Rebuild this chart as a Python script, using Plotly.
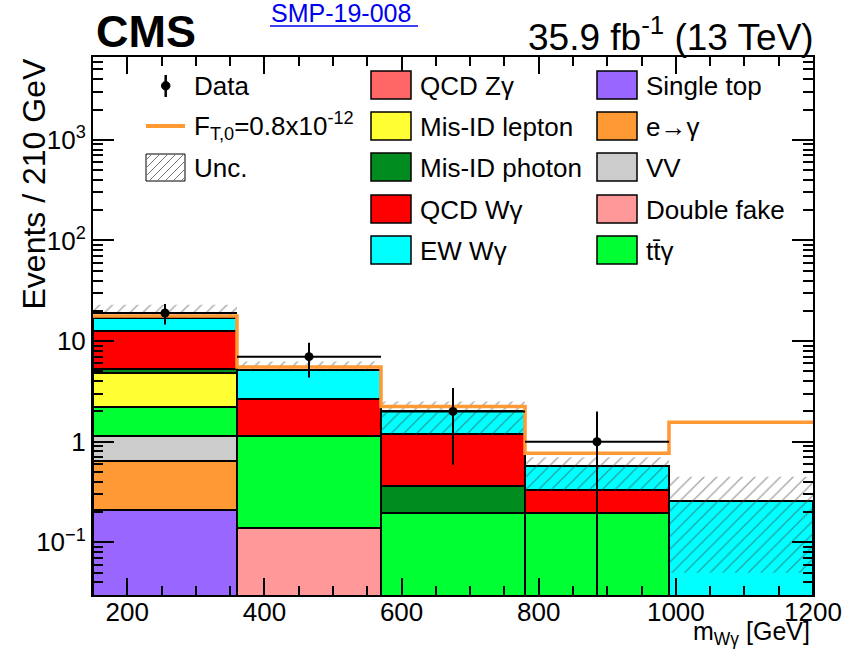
import plotly.graph_objects as go

# ---- binning ----
bin_edges = [150, 360, 570, 780, 990, 1200]
bin_centers = [255, 465, 675, 885, 1095]
bin_width = 210

# ---- stacked backgrounds (bottom to top), events per bin ----
single_top = [0.208, 0, 0, 0, 0]
double_fake = [0, 0.14, 0, 0, 0]
e_to_gamma = [0.43, 0, 0, 0, 0]
vv = [0.51, 0, 0, 0, 0]
ttgamma = [1.06, 1.01, 0.196, 0.196, 0]
misid_lepton = [2.6, 0, 0, 0, 0]
misid_photon = [0.46, 0, 0.164, 0, 0]
qcd_wgamma = [7.33, 1.5, 0.83, 0.134, 0]
ew_wgamma = [4.4, 2.55, 0.81, 0.25, 0.26]
qcd_zgamma = [0, 0, 0, 0, 0]

# ---- observed data ----
data_x = [255, 465, 675, 885]
data_y = [19, 7, 2, 1]
data_err = [4.36, 2.65, 1.41, 1.0]

# ---- aQGC prediction F_T,0 = 0.8e-12 ----
ft0 = [17.8, 5.52, 2.24, 0.77, 1.56]

# ---- uncertainty band (lower / upper edges) ----
unc_lo = [17.0, 5.2, 1.19, 0.33, 0.05]
unc_hi = [23.0, 6.27, 2.51, 0.70, 0.45]

y_tick_vals = [0.1, 1, 10, 100, 1000]
y_tick_text = ["10<sup>\u22121</sup>", "1", "10", "10<sup>2</sup>", "10<sup>3</sup>"]
x_tick_vals = [200, 400, 600, 800, 1000, 1200]

components = [
    ("Single top", single_top, "#9966FF"),
    ("Double fake", double_fake, "#FF9999"),
    ("e\u2192\u03b3", e_to_gamma, "#FF9933"),
    ("VV", vv, "#CCCCCC"),
    ("tt\u0304\u03b3", ttgamma, "#00FF33"),
    ("Mis-ID lepton", misid_lepton, "#FFFF33"),
    ("Mis-ID photon", misid_photon, "#008C1E"),
    ("QCD W\u03b3", qcd_wgamma, "#FF0000"),
    ("EW W\u03b3", ew_wgamma, "#00FFFF"),
    ("QCD Z\u03b3", qcd_zgamma, "#FF6666"),
]
colors = {name: c for name, _, c in components}

FONT = "Liberation Sans"
W, H = 845, 652
L, R, T, B = 93, 813, 57, 595

fig = go.Figure()

for name, vals, col in components:
    fig.add_trace(go.Bar(
        x=bin_centers,
        y=[v if v > 0 else None for v in vals],
        width=[bin_width] * len(bin_centers),
        marker=dict(color=col, line=dict(color="black", width=2)),
        name=name, showlegend=False,
    ))

# hatched uncertainty band
ux, uy = [], []
for i in range(len(bin_centers)):
    a, b = bin_edges[i], bin_edges[i + 1]
    ux += [a, b, b, a, a, None]
    uy += [unc_lo[i], unc_lo[i], unc_hi[i], unc_hi[i], unc_lo[i], None]
fig.add_trace(go.Scatter(
    x=ux, y=uy, mode="lines", fill="toself",
    line=dict(width=0, color="rgba(0,0,0,0)"),
    fillcolor="rgba(0,0,0,0)",
    fillpattern=dict(shape="/", fgcolor="#444444", bgcolor="rgba(0,0,0,0)",
                     size=9, solidity=0.14),
    showlegend=False, hoverinfo="skip",
))

# F_T,0 step line
fig.add_trace(go.Scatter(
    x=bin_edges, y=ft0 + [ft0[-1]], mode="lines",
    line=dict(color="#FF9933", width=3.5, shape="hv"),
    showlegend=False,
))

# data with Poisson errors
fig.add_trace(go.Scatter(
    x=data_x, y=data_y, mode="markers",
    marker=dict(color="black", size=9),
    error_y=dict(type="data", array=data_err, color="black", thickness=2, width=0),
    error_x=dict(type="constant", value=bin_width / 2, color="black", thickness=2, width=0),
    showlegend=False,
))


def px(x):
    return (x - L) / (R - L)


def py(y):
    return (B - y) / (B - T)


shapes = []
annotations = []


def text(x, y, s, size, xanchor="left", yanchor="middle", color="black", bold=False, angle=0):
    annotations.append(dict(
        x=px(x), y=py(y), xref="paper", yref="paper", text=f"<b>{s}</b>" if bold else s,
        showarrow=False, xanchor=xanchor, yanchor=yanchor, textangle=angle,
        font=dict(family=FONT, size=size, color=color),
    ))


def box(x0, y0, x1, y1, fill, lw=1.5):
    shapes.append(dict(type="rect", xref="paper", yref="paper",
                       x0=px(x0), x1=px(x1), y0=py(y1), y1=py(y0),
                       fillcolor=fill, line=dict(color="black", width=lw)))


def seg(x0, y0, x1, y1, color, width):
    shapes.append(dict(type="line", xref="paper", yref="paper",
                       x0=px(x0), x1=px(x1), y0=py(y0), y1=py(y1),
                       line=dict(color=color, width=width)))


LEG_FS = 26
# column 1
seg(165.7, 75, 165.7, 97, "black", 2.5)
shapes.append(dict(type="circle", xref="paper", yref="paper",
                   x0=px(161.5), x1=px(170), y0=py(90), y1=py(81.5),
                   fillcolor="black", line=dict(color="black", width=1)))
text(192, 86, "Data", LEG_FS)
seg(146, 126, 185, 126, "#FF9933", 4)
text(192, 126, "F<sub>T,0</sub>=0.8x10<sup>-12</sup>", LEG_FS)
bx0, by0, bx1, by1 = 146, 154, 185, 181
box(bx0, by0, bx1, by1, "rgba(0,0,0,0)", lw=1)
c = bx0 + by0 + 6
while c < bx1 + by1:
    xa = max(bx0, c - by1)
    xb = min(bx1, c - by0)
    if xb > xa:
        seg(xa, c - xa, xb, c - xb, "#777777", 1)
    c += 8
text(192, 168, "Unc.", LEG_FS)

# columns 2 and 3
col2 = ["QCD Z\u03b3", "Mis-ID lepton", "Mis-ID photon", "QCD W\u03b3", "EW W\u03b3"]
col3 = ["Single top", "e\u2192\u03b3", "VV", "Double fake", "tt\u0304\u03b3"]
rows = [85, 126, 167, 209, 250]
for names, bxl, tx in [(col2, 371, 418), (col3, 597, 644)]:
    for nm, ry in zip(names, rows):
        box(bxl, ry - 14, bxl + 40, ry + 14, colors[nm])
        text(tx, ry + 1, nm, LEG_FS)

# header texts
text(94, 32, "CMS", 45, bold=True)
text(269, 13, "SMP-19-008", 25, color="#0000EE")
seg(270, 26, 418, 26, "#0000EE", 1.5)
text(816, 35, "35.9 fb<sup>-1</sup> (13 TeV)", 37, xanchor="right")

# axis titles
text(33, 57, "Events / 210 GeV", 32, xanchor="center", yanchor="top", angle=-90)
text(812, 633, "m<sub>W\u03b3</sub> [GeV]", 25, xanchor="right")

minor_y = [m * 10 ** k for k in range(-2, 4) for m in range(2, 10)]

fig.update_layout(
    width=W, height=H,
    margin=dict(l=L, r=W - R, t=T, b=H - B, autoexpand=False),
    paper_bgcolor="white", plot_bgcolor="white",
    barmode="stack", bargap=0,
    showlegend=False,
    shapes=shapes, annotations=annotations,
    font=dict(family=FONT, color="black"),
    xaxis=dict(
        range=[150, 1200], tickmode="array", tickvals=x_tick_vals,
        ticks="inside", ticklen=17, tickwidth=1.5, tickcolor="black",
        minor=dict(ticks="inside", ticklen=9, tickwidth=1.5, tickcolor="black",
                   tickmode="linear", tick0=150, dtick=50, showgrid=False),
        showline=True, linecolor="black", linewidth=2, mirror="allticks",
        showgrid=False, zeroline=False, automargin=False,
        ticklabelstandoff=-7,
        tickfont=dict(family=FONT, size=26),
    ),
    yaxis=dict(
        type="log", range=[-1.523, 3.823],
        tickmode="array", tickvals=y_tick_vals, ticktext=y_tick_text,
        ticks="inside", ticklen=21, tickwidth=1.5, tickcolor="black",
        minor=dict(ticks="inside", ticklen=10, tickwidth=1.5, tickcolor="black",
                   tickmode="array", tickvals=minor_y, showgrid=False),
        showline=True, linecolor="black", linewidth=2, mirror="allticks",
        showgrid=False, zeroline=False, automargin=False,
        tickfont=dict(family=FONT, size=26),
    ),
)

fig.write_html("out.html")
